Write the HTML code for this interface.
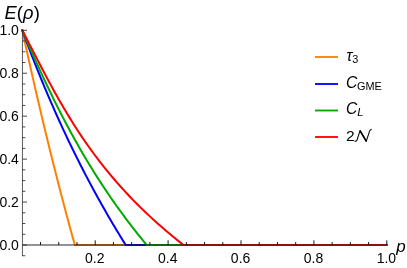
<!DOCTYPE html>
<html><head><meta charset="utf-8"><title>plot</title>
<style>html,body{margin:0;padding:0;background:#fff;}svg{display:block;will-change:transform;}text{font-family:"Liberation Sans",sans-serif;}</style></head>
<body>
<svg width="407" height="268" viewBox="0 0 407 268">
<rect width="407" height="268" fill="#fff"/>
<path d="M22.30,30.30 L23.09,33.94 L23.88,37.58 L24.67,41.22 L25.47,44.86 L26.26,48.49 L27.07,52.13 L27.87,55.77 L28.68,59.41 L29.49,63.05 L30.31,66.69 L31.12,70.33 L31.95,73.97 L32.77,77.61 L33.60,81.25 L34.43,84.88 L35.26,88.52 L36.10,92.16 L36.94,95.80 L37.79,99.44 L38.64,103.08 L39.49,106.72 L40.35,110.36 L41.21,114.00 L42.07,117.64 L42.94,121.27 L43.81,124.91 L44.68,128.55 L45.56,132.19 L46.44,135.83 L47.33,139.47 L48.22,143.11 L49.11,146.75 L50.01,150.39 L50.91,154.03 L51.81,157.66 L52.72,161.30 L53.63,164.94 L54.55,168.58 L55.47,172.22 L56.40,175.86 L57.33,179.50 L58.26,183.14 L59.20,186.78 L60.14,190.42 L61.09,194.05 L62.04,197.69 L62.99,201.33 L63.95,204.97 L64.92,208.61 L65.88,212.25 L66.86,215.89 L67.83,219.53 L68.82,223.17 L69.80,226.81 L70.79,230.44 L71.79,234.08 L72.79,237.72 L73.79,241.36 L74.80,245.00 L386.80,245.00" fill="none" stroke="#ff8000" stroke-width="2" stroke-linejoin="round" stroke-linecap="square"/>
<path d="M22.30,30.30 L23.64,33.94 L24.99,37.58 L26.35,41.22 L27.73,44.86 L29.11,48.49 L30.51,52.13 L31.92,55.77 L33.34,59.41 L34.77,63.05 L36.21,66.69 L37.67,70.33 L39.14,73.97 L40.62,77.61 L42.12,81.25 L43.62,84.88 L45.15,88.52 L46.68,92.16 L48.23,95.80 L49.79,99.44 L51.37,103.08 L52.96,106.72 L54.56,110.36 L56.18,114.00 L57.82,117.64 L59.47,121.27 L61.13,124.91 L62.81,128.55 L64.51,132.19 L66.22,135.83 L67.94,139.47 L69.69,143.11 L71.45,146.75 L73.22,150.39 L75.01,154.03 L76.82,157.66 L78.65,161.30 L80.49,164.94 L82.35,168.58 L84.22,172.22 L86.12,175.86 L88.03,179.50 L89.96,183.14 L91.91,186.78 L93.88,190.42 L95.86,194.05 L97.87,197.69 L99.89,201.33 L101.93,204.97 L103.99,208.61 L106.07,212.25 L108.17,215.89 L110.29,219.53 L112.43,223.17 L114.59,226.81 L116.77,230.44 L118.97,234.08 L121.19,237.72 L123.44,241.36 L125.70,245.00 L386.80,245.00" fill="none" stroke="#0000ff" stroke-width="2" stroke-linejoin="round" stroke-linecap="square"/>
<path d="M22.30,30.30 L23.87,33.94 L25.44,37.58 L27.02,41.22 L28.61,44.86 L30.21,48.49 L31.82,52.13 L33.43,55.77 L35.06,59.41 L36.70,63.05 L38.35,66.69 L40.01,70.33 L41.68,73.97 L43.37,77.61 L45.07,81.25 L46.79,84.88 L48.52,88.52 L50.27,92.16 L52.03,95.80 L53.81,99.44 L55.61,103.08 L57.43,106.72 L59.27,110.36 L61.13,114.00 L63.00,117.64 L64.90,121.27 L66.83,124.91 L68.77,128.55 L70.74,132.19 L72.73,135.83 L74.74,139.47 L76.78,143.11 L78.85,146.75 L80.94,150.39 L83.06,154.03 L85.21,157.66 L87.38,161.30 L89.59,164.94 L91.82,168.58 L94.08,172.22 L96.38,175.86 L98.70,179.50 L101.06,183.14 L103.45,186.78 L105.88,190.42 L108.34,194.05 L110.83,197.69 L113.36,201.33 L115.93,204.97 L118.53,208.61 L121.17,212.25 L123.84,215.89 L126.56,219.53 L129.31,223.17 L132.11,226.81 L134.94,230.44 L137.82,234.08 L140.74,237.72 L143.70,241.36 L146.70,245.00 L386.80,245.00" fill="none" stroke="#00ab00" stroke-width="2" stroke-linejoin="round" stroke-linecap="square"/>
<path d="M22.30,30.30 L24.18,33.94 L26.06,37.58 L27.93,41.22 L29.80,44.86 L31.67,48.49 L33.54,52.13 L35.41,55.77 L37.29,59.41 L39.17,63.05 L41.07,66.69 L42.97,70.33 L44.89,73.97 L46.82,77.61 L48.77,81.25 L50.74,84.88 L52.72,88.52 L54.73,92.16 L56.76,95.80 L58.82,99.44 L60.91,103.08 L63.02,106.72 L65.17,110.36 L67.35,114.00 L69.56,117.64 L71.81,121.27 L74.10,124.91 L76.43,128.55 L78.80,132.19 L81.22,135.83 L83.68,139.47 L86.19,143.11 L88.75,146.75 L91.37,150.39 L94.03,154.03 L96.75,157.66 L99.53,161.30 L102.37,164.94 L105.26,168.58 L108.23,172.22 L111.25,175.86 L114.34,179.50 L117.50,183.14 L120.73,186.78 L124.04,190.42 L127.41,194.05 L130.87,197.69 L134.40,201.33 L138.01,204.97 L141.70,208.61 L145.47,212.25 L149.33,215.89 L153.28,219.53 L157.32,223.17 L161.44,226.81 L165.66,230.44 L169.97,234.08 L174.38,237.72 L178.89,241.36 L183.50,245.00 L386.80,245.00" fill="none" stroke="#ff0000" stroke-width="2" stroke-linejoin="round" stroke-linecap="square"/>
<g stroke="#1c1c1c" stroke-width="0.95" fill="none">
<line x1="22.3" y1="245.0" x2="386.8" y2="245.0"/>
<line x1="22.45" y1="30.10" x2="22.45" y2="256.04" stroke="#333" stroke-width="0.8"/>
<line x1="40.53" y1="245.0" x2="40.53" y2="242.00" stroke-width="0.9" stroke="#000"/>
<line x1="58.75" y1="245.0" x2="58.75" y2="242.00" stroke-width="0.9" stroke="#000"/>
<line x1="76.98" y1="245.0" x2="76.98" y2="242.00" stroke-width="0.9" stroke="#000"/>
<line x1="95.20" y1="245.0" x2="95.20" y2="240.30" stroke-width="0.9" stroke="#000"/>
<line x1="113.42" y1="245.0" x2="113.42" y2="242.00" stroke-width="0.9" stroke="#000"/>
<line x1="131.65" y1="245.0" x2="131.65" y2="242.00" stroke-width="0.9" stroke="#000"/>
<line x1="149.88" y1="245.0" x2="149.88" y2="242.00" stroke-width="0.9" stroke="#000"/>
<line x1="168.10" y1="245.0" x2="168.10" y2="240.30" stroke-width="0.9" stroke="#000"/>
<line x1="186.33" y1="245.0" x2="186.33" y2="242.00" stroke-width="0.9" stroke="#000"/>
<line x1="204.55" y1="245.0" x2="204.55" y2="242.00" stroke-width="0.9" stroke="#000"/>
<line x1="222.78" y1="245.0" x2="222.78" y2="242.00" stroke-width="0.9" stroke="#000"/>
<line x1="241.00" y1="245.0" x2="241.00" y2="240.30" stroke-width="0.9" stroke="#000"/>
<line x1="259.23" y1="245.0" x2="259.23" y2="242.00" stroke-width="0.9" stroke="#000"/>
<line x1="277.45" y1="245.0" x2="277.45" y2="242.00" stroke-width="0.9" stroke="#000"/>
<line x1="295.68" y1="245.0" x2="295.68" y2="242.00" stroke-width="0.9" stroke="#000"/>
<line x1="313.90" y1="245.0" x2="313.90" y2="240.30" stroke-width="0.9" stroke="#000"/>
<line x1="332.13" y1="245.0" x2="332.13" y2="242.00" stroke-width="0.9" stroke="#000"/>
<line x1="350.35" y1="245.0" x2="350.35" y2="242.00" stroke-width="0.9" stroke="#000"/>
<line x1="368.58" y1="245.0" x2="368.58" y2="242.00" stroke-width="0.9" stroke="#000"/>
<line x1="386.80" y1="245.0" x2="386.80" y2="240.30" stroke-width="0.9" stroke="#000"/>
<line x1="22.3" y1="255.74" x2="25.30" y2="255.74" stroke-width="0.8" stroke="#1a1a1a"/>
<line x1="22.3" y1="245.00" x2="27.00" y2="245.00" stroke-width="0.8" stroke="#1a1a1a"/>
<line x1="22.3" y1="234.26" x2="25.30" y2="234.26" stroke-width="0.8" stroke="#1a1a1a"/>
<line x1="22.3" y1="223.53" x2="25.30" y2="223.53" stroke-width="0.8" stroke="#1a1a1a"/>
<line x1="22.3" y1="212.79" x2="25.30" y2="212.79" stroke-width="0.8" stroke="#1a1a1a"/>
<line x1="22.3" y1="202.06" x2="27.00" y2="202.06" stroke-width="0.8" stroke="#1a1a1a"/>
<line x1="22.3" y1="191.32" x2="25.30" y2="191.32" stroke-width="0.8" stroke="#1a1a1a"/>
<line x1="22.3" y1="180.59" x2="25.30" y2="180.59" stroke-width="0.8" stroke="#1a1a1a"/>
<line x1="22.3" y1="169.85" x2="25.30" y2="169.85" stroke-width="0.8" stroke="#1a1a1a"/>
<line x1="22.3" y1="159.12" x2="27.00" y2="159.12" stroke-width="0.8" stroke="#1a1a1a"/>
<line x1="22.3" y1="148.38" x2="25.30" y2="148.38" stroke-width="0.8" stroke="#1a1a1a"/>
<line x1="22.3" y1="137.65" x2="25.30" y2="137.65" stroke-width="0.8" stroke="#1a1a1a"/>
<line x1="22.3" y1="126.91" x2="25.30" y2="126.91" stroke-width="0.8" stroke="#1a1a1a"/>
<line x1="22.3" y1="116.18" x2="27.00" y2="116.18" stroke-width="0.8" stroke="#1a1a1a"/>
<line x1="22.3" y1="105.44" x2="25.30" y2="105.44" stroke-width="0.8" stroke="#1a1a1a"/>
<line x1="22.3" y1="94.71" x2="25.30" y2="94.71" stroke-width="0.8" stroke="#1a1a1a"/>
<line x1="22.3" y1="83.98" x2="25.30" y2="83.98" stroke-width="0.8" stroke="#1a1a1a"/>
<line x1="22.3" y1="73.24" x2="27.00" y2="73.24" stroke-width="0.8" stroke="#1a1a1a"/>
<line x1="22.3" y1="62.50" x2="25.30" y2="62.50" stroke-width="0.8" stroke="#1a1a1a"/>
<line x1="22.3" y1="51.77" x2="25.30" y2="51.77" stroke-width="0.8" stroke="#1a1a1a"/>
<line x1="22.3" y1="41.03" x2="25.30" y2="41.03" stroke-width="0.8" stroke="#1a1a1a"/>
<line x1="22.3" y1="30.30" x2="27.00" y2="30.30" stroke-width="0.8" stroke="#1a1a1a"/>
</g>
<g font-size="14" fill="#000000">
<text x="18.9" y="250.10" text-anchor="end">0.0</text>
<text x="18.9" y="207.16" text-anchor="end">0.2</text>
<text x="18.9" y="164.22" text-anchor="end">0.4</text>
<text x="18.9" y="121.28" text-anchor="end">0.6</text>
<text x="18.9" y="78.34" text-anchor="end">0.8</text>
<text x="18.9" y="35.40" text-anchor="end">1.0</text>
<text x="94.80" y="263.2" text-anchor="middle">0.2</text>
<text x="167.70" y="263.2" text-anchor="middle">0.4</text>
<text x="240.60" y="263.2" text-anchor="middle">0.6</text>
<text x="313.50" y="263.2" text-anchor="middle">0.8</text>
<text x="386.40" y="263.2" text-anchor="middle">1.0</text>
</g>
<text x="4.5" y="18.6" font-size="18.3" font-style="italic" fill="#000000">E<tspan font-style="normal" font-size="18.5">(</tspan>ρ<tspan font-style="normal" font-size="18.5" dx="0.3">)</tspan></text>
<text x="396.2" y="251.6" font-size="17" font-style="italic" fill="#000000">p</text>
<line x1="315" y1="57" x2="338" y2="57" stroke="#ff8000" stroke-width="1.85"/>
<line x1="315" y1="84" x2="338" y2="84" stroke="#0000ff" stroke-width="1.85"/>
<line x1="315" y1="110.5" x2="338" y2="110.5" stroke="#00ab00" stroke-width="1.85"/>
<line x1="315" y1="137" x2="338" y2="137" stroke="#ff0000" stroke-width="1.85"/>
<text x="346.4" y="61.0" font-size="15.7" font-style="italic" fill="#000000">τ<tspan font-size="10.9" font-style="normal" dy="2.0">3</tspan></text>
<text x="346" y="87.6" font-size="15.7" font-style="italic" fill="#000000">C<tspan font-size="10.9" font-style="normal" dy="2.1" dx="-0.4">GME</tspan></text>
<text x="346" y="114.2" font-size="15.7" font-style="italic" fill="#000000">C<tspan font-size="11.5" dy="2.1">L</tspan></text>
<text transform="translate(346.1,140.6) scale(1.04,1)" font-size="15" fill="#000000">2</text>
<path d="M354.9,141.1 C355.8,141.5 356.6,141.0 357.0,140.0 L360.1,130.7 L366.3,141.2 L369.6,131.2 C369.9,130.2 370.5,129.7 371.2,129.4" fill="none" stroke="#000000" stroke-width="1.05" stroke-linejoin="round" stroke-linecap="round"/>
<path d="M360.1,130.9 L366.2,141.0" fill="none" stroke="#000000" stroke-width="1.5" stroke-linecap="round"/>
</svg></body></html>
